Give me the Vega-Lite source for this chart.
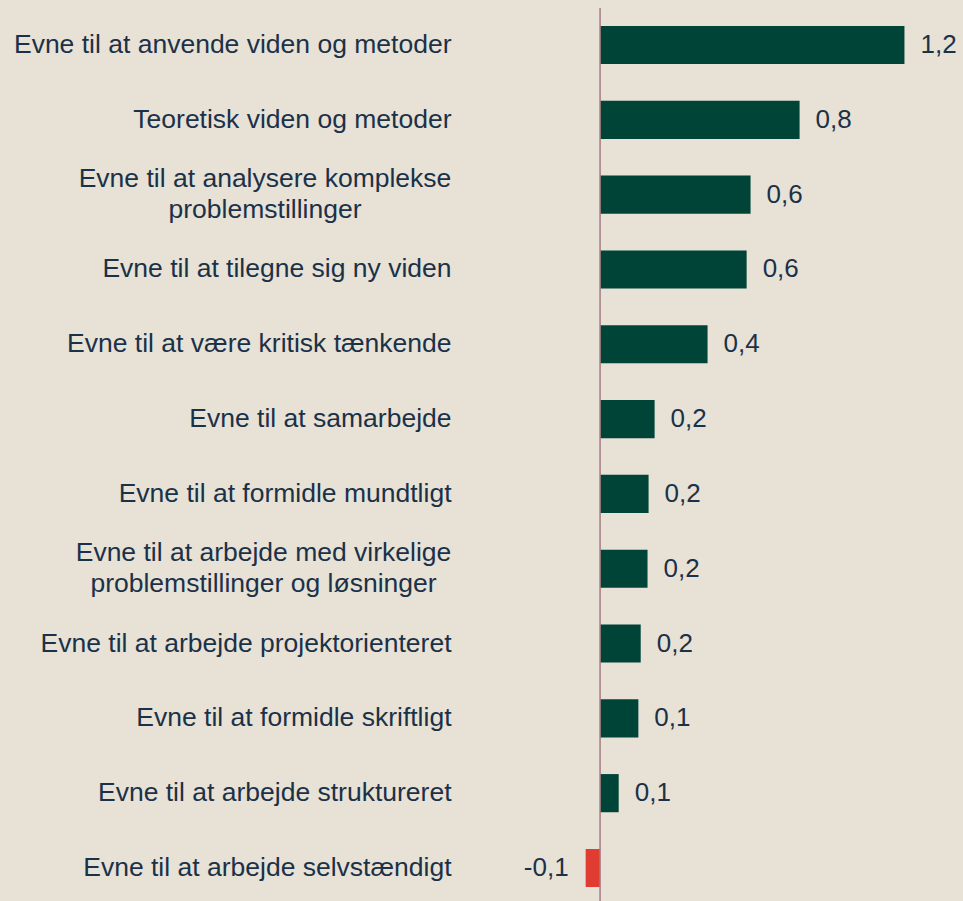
{
  "$schema": "https://vega.github.io/schema/vega-lite/v6.json",
  "autosize": "none",
  "padding": {"left": 469, "top": 8, "right": 9, "bottom": 0},
  "width": 485,
  "height": 897,
  "background": "#E7E1D6",
  "config": {
    "view": {"stroke": null},
    "locale": {
      "number": {"decimal": ",", "thousands": ".", "grouping": [3], "currency": ["", " kr."], "minus": "-"}
    },
    "text": {"font": "Liberation Sans"}
  },
  "data": {
    "values": [
      {"kompetence": "Evne til at anvende viden og metoder", "effekt": 1.161},
      {"kompetence": "Teoretisk viden og metoder", "effekt": 0.761},
      {"kompetence": "Evne til at analysere komplekse\nproblemstillinger", "effekt": 0.574},
      {"kompetence": "Evne til at tilegne sig ny viden", "effekt": 0.559},
      {"kompetence": "Evne til at være kritisk tænkende", "effekt": 0.41},
      {"kompetence": "Evne til at samarbejde", "effekt": 0.208},
      {"kompetence": "Evne til at formidle mundtligt", "effekt": 0.185},
      {"kompetence": "Evne til at arbejde med virkelige\nproblemstillinger og løsninger", "effekt": 0.181},
      {"kompetence": "Evne til at arbejde projektorienteret", "effekt": 0.155},
      {"kompetence": "Evne til at formidle skriftligt", "effekt": 0.146},
      {"kompetence": "Evne til at arbejde struktureret", "effekt": 0.071},
      {"kompetence": "Evne til at arbejde selvstændigt", "effekt": -0.055}
    ]
  },
  "encoding": {
    "y": {
      "field": "kompetence",
      "type": "nominal",
      "sort": null,
      "scale": {"paddingInner": 0.49, "paddingOuter": 0.24},
      "axis": {
        "title": null,
        "domain": false,
        "ticks": false,
        "labelLimit": 0,
        "labelFont": "Liberation Sans",
        "labelFontSize": 26.5,
        "labelColor": "#1B3148",
        "labelLineHeight": 31,
        "labelExpr": "split(datum.label, '\\n')",
        "labelAlign": {
          "condition": {"test": "indexof(datum.value, '\\n') >= 0", "value": "center"},
          "value": "right"
        },
        "labelPadding": {
          "condition": [
            {"test": "indexof(datum.value, 'analysere') >= 0", "value": 204.5},
            {"test": "indexof(datum.value, 'virkelige') >= 0", "value": 206}
          ],
          "value": 18
        },
        "labelOffset": {
          "condition": {"test": "indexof(datum.value, '\\n') >= 0", "value": -15.5},
          "value": 0
        }
      }
    }
  },
  "layer": [
    {
      "mark": {"type": "bar"},
      "encoding": {
        "x": {
          "field": "effekt",
          "type": "quantitative",
          "scale": {"domain": [-0.5, 1.35], "nice": false},
          "axis": null
        },
        "color": {
          "condition": {"test": "datum.effekt < 0", "value": "#E03C31"},
          "value": "#004438"
        }
      }
    },
    {
      "transform": [{"filter": "datum.effekt >= 0"}],
      "mark": {"type": "text", "align": "left", "baseline": "middle", "dx": 16, "fontSize": 26, "color": "#1B3148"},
      "encoding": {
        "x": {"field": "effekt", "type": "quantitative"},
        "text": {"field": "effekt", "type": "quantitative", "format": ".1f"}
      }
    },
    {
      "transform": [{"filter": "datum.effekt < 0"}],
      "mark": {"type": "text", "align": "right", "baseline": "middle", "dx": -17, "fontSize": 26, "color": "#1B3148"},
      "encoding": {
        "x": {"field": "effekt", "type": "quantitative"},
        "text": {"field": "effekt", "type": "quantitative", "format": ".1f"}
      }
    },
    {
      "data": {"values": [{"nul": 0}]},
      "mark": {"type": "rule", "color": "#A67D85", "strokeWidth": 1.5},
      "encoding": {
        "x": {"field": "nul", "type": "quantitative"},
        "y": null
      }
    }
  ]
}
